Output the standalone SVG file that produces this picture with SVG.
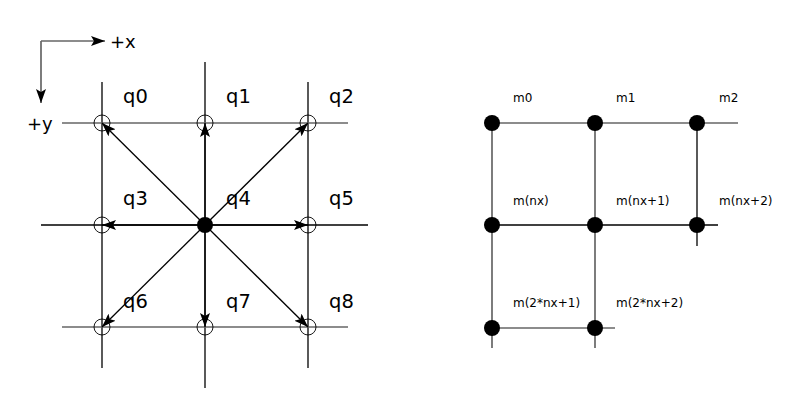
<svg xmlns="http://www.w3.org/2000/svg" width="800" height="410" viewBox="0 0 800 410">
<style>
  .g { stroke:#666; stroke-width:1.7; fill:none; }
  .k { stroke:#000; stroke-width:1.3; fill:none; }
  .a { stroke:#000; stroke-width:1.3; fill:none; marker-end:url(#ah); }
  .ax { stroke:#666; stroke-width:1.7; fill:none; marker-end:url(#ah); }
  .oc { stroke:#000; stroke-width:0.9; fill:none; }
  .fc { fill:#000; stroke:none; }
  .ql { font-family:"DejaVu Sans",sans-serif; font-size:19.5px; fill:#000; }
  .axl { font-family:"DejaVu Sans",sans-serif; font-size:18px; fill:#000; }
  .ml { font-family:"DejaVu Sans",sans-serif; font-size:12px; fill:#000; }
</style>
<defs>
  <marker id="ah" viewBox="0 0 14 10" refX="14" refY="5" markerWidth="14" markerHeight="10" markerUnits="userSpaceOnUse" orient="auto">
    <path d="M0,0 L14,5 L0,10 L3,5 Z" fill="#000"/>
  </marker>
</defs>

<g id="axes">
  <path class="ax" d="M41,41 H105"/>
  <path class="ax" d="M41,41 V103"/>
  <text class="axl" x="110" y="48">+x</text>
  <text class="axl" x="27" y="130">+y</text>
</g>

<g id="lattice-lines">
  <path class="k" d="M102,82 V368"/>
  <path class="k" d="M205,62 V388"/>
  <path class="k" d="M308,82 V368"/>
  <path class="g" d="M62,123 H348"/>
  <path class="k" d="M41,225 H368"/>
  <path class="g" d="M62,327 H348"/>
</g>

<g id="connectors">
  <path class="a" d="M205,225 L102,123"/>
  <path class="a" d="M205,225 L205,123"/>
  <path class="a" d="M205,225 L308,123"/>
  <path class="a" d="M205,225 L102,225"/>
  <path class="a" d="M205,225 L308,225"/>
  <path class="a" d="M205,225 L102,327"/>
  <path class="a" d="M205,225 L205,327"/>
  <path class="a" d="M205,225 L308,327"/>
</g>

<g id="q0"><circle class="oc" cx="102" cy="123" r="8"/><text class="ql" x="123" y="103">q0</text></g>
<g id="q1"><circle class="oc" cx="205" cy="123" r="8"/><text class="ql" x="226" y="103">q1</text></g>
<g id="q2"><circle class="oc" cx="308" cy="123" r="8"/><text class="ql" x="329" y="103">q2</text></g>
<g id="q3"><circle class="oc" cx="102" cy="225" r="8"/><text class="ql" x="123" y="205">q3</text></g>
<g id="q4"><circle class="fc" cx="205" cy="225" r="8"/><text class="ql" x="226" y="205">q4</text></g>
<g id="q5"><circle class="oc" cx="308" cy="225" r="8"/><text class="ql" x="329" y="205">q5</text></g>
<g id="q6"><circle class="oc" cx="102" cy="327" r="8"/><text class="ql" x="123" y="308">q6</text></g>
<g id="q7"><circle class="oc" cx="205" cy="327" r="8"/><text class="ql" x="226" y="308">q7</text></g>
<g id="q8"><circle class="oc" cx="308" cy="327" r="8"/><text class="ql" x="329" y="308">q8</text></g>

<g id="mesh-lines">
  <path class="g" d="M492,123 H738"/>
  <path class="k" d="M492,225 H718"/>
  <path class="g" d="M492,328 H615"/>
  <path class="g" d="M492,123 V348"/>
  <path class="g" d="M595,123 V348"/>
  <path class="k" d="M697,123 V246"/>
</g>

<g id="m0"><circle class="fc" cx="492" cy="123" r="8"/><text class="ml" x="513" y="102">m0</text></g>
<g id="m1"><circle class="fc" cx="595" cy="123" r="8"/><text class="ml" x="616" y="102">m1</text></g>
<g id="m2"><circle class="fc" cx="697" cy="123" r="8"/><text class="ml" x="719" y="102">m2</text></g>
<g id="mnx"><circle class="fc" cx="492" cy="225" r="8"/><text class="ml" x="513" y="205">m(nx)</text></g>
<g id="mnx1"><circle class="fc" cx="595" cy="225" r="8"/><text class="ml" x="616" y="205">m(nx+1)</text></g>
<g id="mnx2"><circle class="fc" cx="697" cy="225" r="8"/><text class="ml" x="719" y="205">m(nx+2)</text></g>
<g id="m2nx1"><circle class="fc" cx="492" cy="328" r="8"/><text class="ml" x="513" y="307">m(2*nx+1)</text></g>
<g id="m2nx2"><circle class="fc" cx="595" cy="328" r="8"/><text class="ml" x="616" y="307">m(2*nx+2)</text></g>
</svg>
